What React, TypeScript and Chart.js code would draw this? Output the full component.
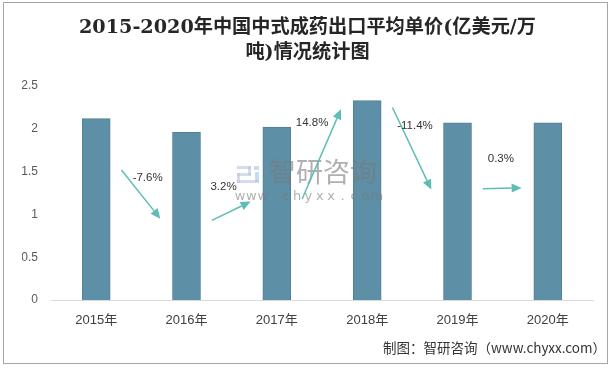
import { useEffect, useRef } from 'react';
import { Chart, registerables } from 'chart.js';

Chart.register(...registerables);

const categories = ['2015年', '2016年', '2017年', '2018年', '2019年', '2020年'];
const prices = [2.12, 1.96, 2.02, 2.33, 2.07, 2.07];
const growthLabels = ['-7.6%', '3.2%', '14.8%', '-11.4%', '0.3%'];
const arrowStartValues = [1.52, 0.93, 1.18, 2.25, 1.30];
const arrowEndValues = [0.95, 1.15, 2.23, 1.29, 1.31];
const growthLabelValues = [1.43, 1.32, 2.07, 2.04, 1.65];
const yTickValues = [0, 0.5, 1, 1.5, 2, 2.5];
const titleLines = ['2015-2020年中国中式成药出口平均单价(亿美元/万', '吨)情况统计图'];
const sourceText = '制图：智研咨询（www.chyxx.com）';
const watermarkName = '智研咨询';
const watermarkUrl = 'www.chyxx.com';

// label horizontal offsets from the left bar centre (fraction of category width)
const labelOffsets = [0.57, 0.41, 0.39, 0.53, 0.48];

const ARROW = '#5dbdb6';

function drawArrow(ctx: CanvasRenderingContext2D, x1: number, y1: number, x2: number, y2: number) {
  const ang = Math.atan2(y2 - y1, x2 - x1);
  const head = 10;
  const hw = 4.5;
  const bx = x2 - head * Math.cos(ang);
  const by = y2 - head * Math.sin(ang);
  ctx.save();
  ctx.strokeStyle = ARROW;
  ctx.fillStyle = ARROW;
  ctx.lineWidth = 1.5;
  ctx.beginPath();
  ctx.moveTo(x1, y1);
  ctx.lineTo(bx, by);
  ctx.stroke();
  ctx.beginPath();
  ctx.moveTo(x2, y2);
  ctx.lineTo(bx + hw * Math.sin(ang), by - hw * Math.cos(ang));
  ctx.lineTo(bx - hw * Math.sin(ang), by + hw * Math.cos(ang));
  ctx.closePath();
  ctx.fill();
  ctx.restore();
}

const overlayPlugin = {
  id: 'overlay',
  afterDatasetsDraw(chart: any) {
    const ctx = chart.ctx as CanvasRenderingContext2D;
    const xs = chart.scales.x;
    const ys = chart.scales.y;
    const area = chart.chartArea;
    const cx = (area.left + area.right) / 2;
    const cy = (area.top + area.bottom) / 2;

    // watermark
    ctx.save();
    ctx.globalAlpha = 0.6;
    ctx.fillStyle = '#b9c3da';
    const lx = cx - 85;
    const ly = cy - 27;
    ctx.fillRect(lx, ly, 14, 3);
    ctx.fillRect(lx + 11, ly, 3, 9);
    ctx.fillRect(lx, ly + 7, 14, 3);
    ctx.fillRect(lx, ly + 7, 3, 10);
    ctx.fillRect(lx, ly + 14, 22, 3);
    ctx.fillStyle = '#9fc6ea';
    ctx.fillRect(lx + 17, ly, 5, 4);
    ctx.fillRect(lx + 18, ly + 6, 4, 10);
    ctx.fillStyle = '#7a7a7a';
    ctx.font = '27px "Noto Sans CJK SC", sans-serif';
    ctx.textAlign = 'left';
    ctx.textBaseline = 'middle';
    ctx.fillText(watermarkName, cx - 53, cy - 21);
    ctx.font = '13px "DejaVu Sans", sans-serif';
    ctx.textAlign = 'center';
    const chars = watermarkUrl.split('');
    chars.forEach((c, i) => {
      ctx.fillText(c, cx - 82 + i * 11.4, cy + 4);
    });
    ctx.restore();

    // arrows and growth labels
    const step = xs.getPixelForValue(1) - xs.getPixelForValue(0);
    growthLabels.forEach((lab, i) => {
      const x0 = xs.getPixelForValue(i);
      drawArrow(
        ctx,
        x0 + 0.28 * step,
        ys.getPixelForValue(arrowStartValues[i]),
        x0 + 0.71 * step,
        ys.getPixelForValue(arrowEndValues[i])
      );
      ctx.save();
      ctx.fillStyle = '#333333';
      ctx.font = '11.5px "Liberation Sans", sans-serif';
      ctx.textAlign = 'center';
      ctx.textBaseline = 'middle';
      ctx.fillText(lab, x0 + labelOffsets[i] * step, ys.getPixelForValue(growthLabelValues[i]));
      ctx.restore();
    });
  },
  afterDraw(chart: any) {
    const ctx = chart.ctx as CanvasRenderingContext2D;
    ctx.save();
    ctx.fillStyle = '#333333';
    ctx.font = '13.5px "Noto Sans CJK SC", sans-serif';
    ctx.textAlign = 'right';
    ctx.textBaseline = 'middle';
    ctx.fillText(sourceText, 606, 348);
    ctx.strokeStyle = '#a6a6a6';
    ctx.lineWidth = 1;
    ctx.strokeRect(3.5, 2.5, 604, 361);
    ctx.restore();
  },
};

export default function App() {
  const ref = useRef<HTMLCanvasElement | null>(null);
  useEffect(() => {
    if (!ref.current) return;
    const chart = new Chart(ref.current, {
      type: 'bar',
      data: {
        labels: categories,
        datasets: [
          {
            data: prices,
            backgroundColor: '#5d8fa6',
            borderColor: '#527f95',
            borderWidth: 1,
            barThickness: 28,
          },
        ],
      },
      options: {
        responsive: false,
        devicePixelRatio: 1,
        animation: false,
        layout: { padding: { left: 22, right: 22, top: 0, bottom: 38 } },
        plugins: {
          legend: { display: false },
          tooltip: { enabled: false },
          title: {
            display: true,
            text: titleLines,
            color: '#262626',
            font: { family: '"DejaVu Serif", "Noto Sans CJK SC", serif', size: 19.2, weight: 'bold', lineHeight: 1.33 },
            padding: { top: 15, bottom: 20 },
          },
        },
        scales: {
          x: {
            grid: { display: false, drawTicks: false },
            border: { display: true, color: '#d9d9d9' },
            ticks: { color: '#404040', font: { family: '"Liberation Sans", "Noto Sans CJK SC", sans-serif', size: 13 }, padding: 13 },
            afterFit(scale: any) {
              scale.height = 30;
            },
          },
          y: {
            min: 0,
            max: 2.5,
            afterBuildTicks(scale: any) {
              scale.ticks = yTickValues.map((v) => ({ value: v }));
            },
            grid: { display: false, drawTicks: false },
            border: { display: false },
            ticks: {
              color: '#595959',
              font: { family: '"Liberation Sans", sans-serif', size: 12 },
              padding: 13,
              callback: (v: any) => String(v),
            },
            afterFit(scale: any) {
              scale.width = 29;
            },
          },
        },
      },
      plugins: [overlayPlugin],
    });
    return () => chart.destroy();
  }, []);
  return (
    <div style={{ position: 'fixed', left: 0, top: 0, width: 615, height: 368, background: '#ffffff' }}>
      <canvas ref={ref} width={615} height={368} />
    </div>
  );
}
